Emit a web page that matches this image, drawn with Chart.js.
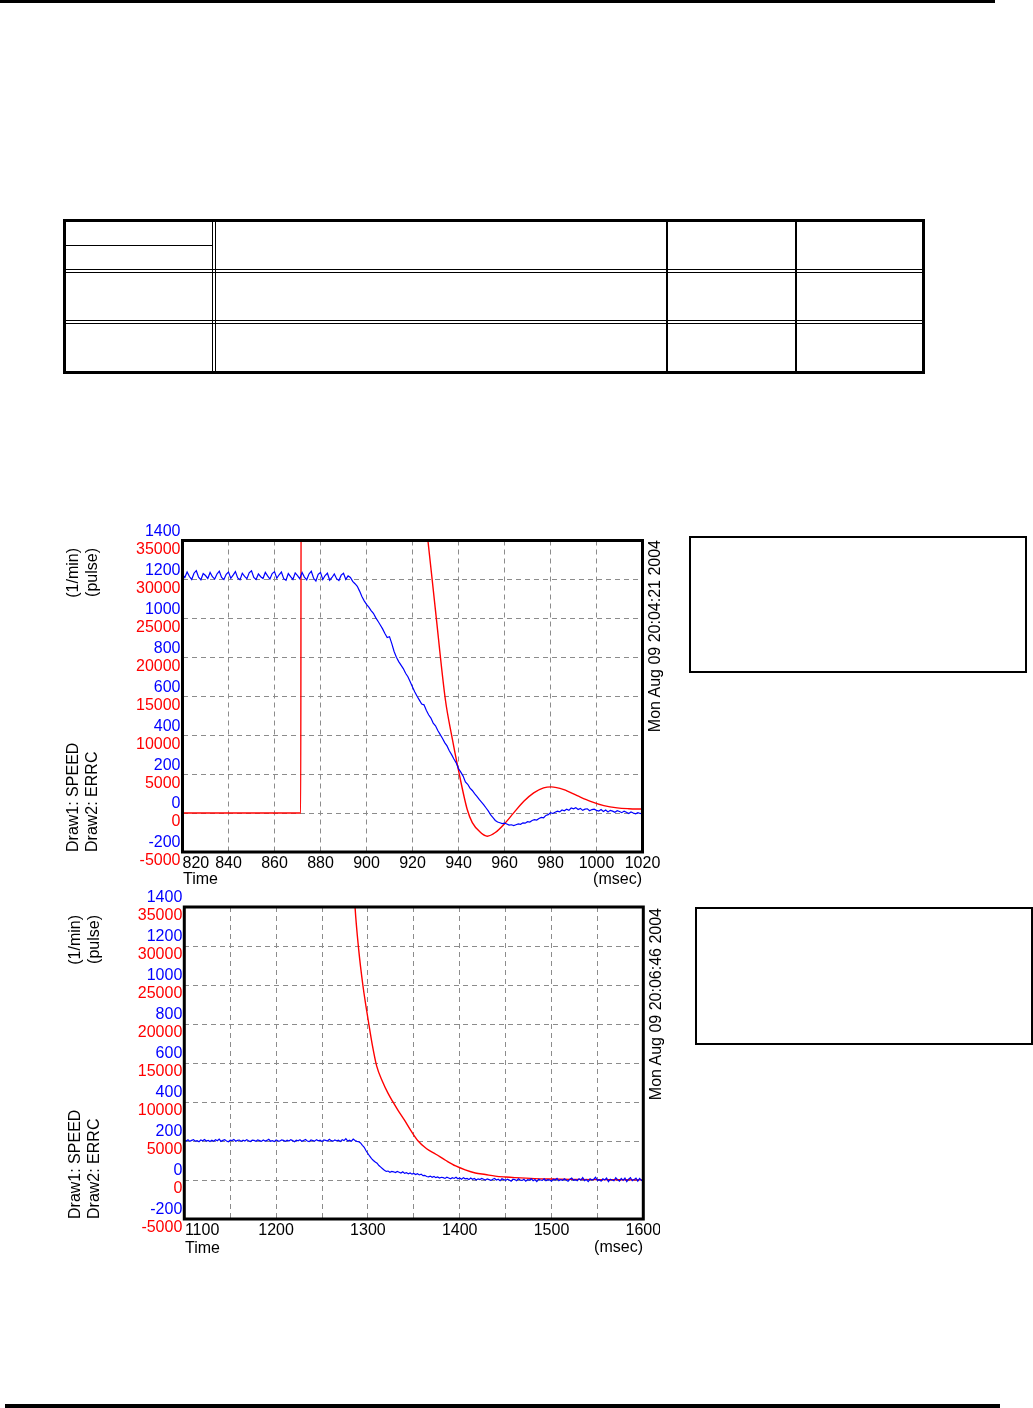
<!DOCTYPE html>
<html lang="en">
<head>
  <meta charset="UTF-8" />
  <title>SPEED / ERRC traces</title>
  <script src="https://cdn.jsdelivr.net/npm/chart.js"></script>
  <style>
    body {
      margin: 0;
      background: #fff;
      font-family: 'Liberation Sans', Arial, sans-serif;
    }
    #page { position: relative; width: 1033px; height: 1408px; overflow: hidden; }
    canvas, .abs { position: absolute; }
    .rule { position: absolute; background: #000; }
    .box { position: absolute; border: 2px solid #000; box-sizing: border-box; }
    .rot {
      position: absolute;
      transform-origin: 0 0;
      transform: rotate(-90deg);
      white-space: nowrap;
      font-size: 16px;
      line-height: 19px;
    }
    .lbl { position: absolute; font-size: 16px; line-height: 18px; white-space: nowrap; }
  </style>
</head>
<body>
<div id="page">
  <!-- page rules -->
  <div class="rule" style="left:0;top:0;width:995px;height:3px"></div>
  <div class="rule" style="left:5px;top:1404px;width:995px;height:4px"></div>

  <!-- empty table -->
  <svg class="abs" style="left:0;top:0" width="1033" height="400" shape-rendering="crispEdges">
    <g stroke="#000" fill="none">
      <rect x="64.5" y="220.5" width="859" height="152" stroke-width="3" />
      <line x1="212.5" y1="219" x2="212.5" y2="374" />
      <line x1="215.5" y1="219" x2="215.5" y2="374" />
      <line x1="667" y1="219" x2="667" y2="374" stroke-width="2" />
      <line x1="796" y1="219" x2="796" y2="374" stroke-width="2" />
      <line x1="63" y1="245.5" x2="213" y2="245.5" />
      <line x1="63" y1="269.5" x2="925" y2="269.5" />
      <line x1="63" y1="272.5" x2="925" y2="272.5" />
      <line x1="63" y1="320.5" x2="925" y2="320.5" />
      <line x1="63" y1="323.5" x2="925" y2="323.5" />
    </g>
  </svg>

  <!-- chart 1 -->
  <canvas id="chart1" width="560" height="360" style="left:100px;top:520px"></canvas>
  <div class="rot" style="left:63px;top:668px;width:120px;text-align:right">(1/min)<br>(pulse)</div>
  <div class="rot" style="left:63px;top:852px;width:120px">Draw1: SPEED<br>Draw2: ERRC</div>
  <div class="rot" style="left:645px;top:770px;width:230px;text-align:right">Mon Aug 09 20:04:21 2004</div>
  <div class="lbl" style="left:183px;top:870px">Time</div>
  <div class="lbl" style="right:391px;top:870px">(msec)</div>
  <div class="box" style="left:689px;top:536px;width:338px;height:137px"></div>

  <!-- chart 2 -->
  <canvas id="chart2" width="560" height="360" style="left:100px;top:887px"></canvas>
  <div class="rot" style="left:65px;top:1035px;width:120px;text-align:right">(1/min)<br>(pulse)</div>
  <div class="rot" style="left:65px;top:1219px;width:120px">Draw1: SPEED<br>Draw2: ERRC</div>
  <div class="rot" style="left:646px;top:1138px;width:230px;text-align:right">Mon Aug 09 20:06:46 2004</div>
  <div class="lbl" style="left:185px;top:1239px">Time</div>
  <div class="lbl" style="right:390px;top:1238px">(msec)</div>
  <div class="box" style="left:695px;top:907px;width:338px;height:138px"></div>
</div>

<script>
  // tick values
  const speedTicks = [-200, 0, 200, 400, 600, 800, 1000, 1200, 1400];
  const errTicks = [-5000, 0, 5000, 10000, 15000, 20000, 25000, 30000, 35000];
  const time1Ticks = [820, 840, 860, 880, 900, 920, 940, 960, 980, 1000, 1020];
  const time2Ticks = [1100, 1150, 1200, 1250, 1300, 1350, 1400, 1450, 1500, 1550, 1600];
  const time2Labels = [1100, 1200, 1300, 1400, 1500, 1600];

  // chart 1: SPEED sampled every 1 ms from 820 ms
  const speed1Start = 820, speed1Step = 1;
  const speed1 = [
    1225, 1210, 1238, 1215, 1200, 1232, 1245, 1212, 1198, 1230,
    1220, 1205, 1236, 1214, 1202, 1228, 1242, 1210, 1200, 1226,
    1238, 1206, 1222, 1240, 1208, 1198, 1232, 1216, 1204, 1234,
    1244, 1210, 1200, 1228, 1214, 1205, 1236, 1218, 1202, 1230,
    1240, 1206, 1224, 1238, 1204, 1196, 1230, 1214, 1200, 1234,
    1220, 1204, 1236, 1212, 1198, 1228, 1242, 1206, 1192, 1226,
    1236, 1200, 1220, 1232, 1196, 1210, 1228, 1204, 1194, 1222,
    1232, 1200, 1218, 1210, 1190, 1178, 1165, 1140, 1112, 1090,
    1072, 1058, 1040, 1026, 1004, 985, 966, 946, 922, 902,
    906, 870, 830, 800, 778, 760, 742, 718, 700, 674,
    648, 622, 600, 580, 560, 556, 528, 505, 488, 462,
    448, 424, 404, 384, 362, 345, 320, 300, 278, 258,
    228, 210, 190, 160, 148, 128, 116, 100, 86, 70,
    56, 42, 26, 10, -10, -24, -38, -46, -50, -54,
    -52, -56, -62, -60, -64, -60, -56, -58, -50, -52,
    -44, -46, -38, -34, -36, -28, -22, -24, -12, -8,
    2, -2, 4, 10, 6, 16, 12, 20, 14, 26,
    22, 28, 18, 24, 14, 20, 22, 12, 18, 20,
    14, 10, 18, 8, 16, 6, 14, 10, 4, 12,
    8, 2, 10, 4, -2, 6, 0, -4, 2, -2,
    -4
  ];
  // chart 1: ERRC
  const err1Time = [820, 871.4, 871.6, 922, 926.7, 930, 934.3, 937, 940, 943.8, 946, 949.6, 952.5, 956,
    959.7, 964, 968.4, 972.7, 977, 980.3, 985.8, 991.6, 997.4, 1003.2, 1009, 1014, 1020];
  const err1 = [0, 0, 47000, 47000, 35000, 26000, 14550, 10000, 5490, 450, -1220, -2500, -2970, -2500,
    -1470, 25, 1510, 2590, 3230, 3360, 3010, 2240, 1510, 960, 660, 560, 520];

  // chart 2: SPEED sampled every 2 ms from 1100 ms
  const speed2Start = 1100, speed2Step = 2;
  const speed2 = [
    204, 200, 206, 198, 203, 207, 199, 202, 196, 205,
    201, 208, 200, 203, 197, 204, 199, 206, 201, 210,
    198, 203, 207, 200, 196, 204, 202, 208, 199, 203,
    205, 198, 204, 200, 207, 201, 197, 204, 203, 199,
    206, 202, 198, 205, 200, 203, 209, 199, 202, 197,
    205, 201, 199, 206, 203, 198, 204, 200, 207, 202,
    196, 204, 201, 206, 199, 203, 208, 200, 197, 205,
    202, 199, 207, 201, 204, 198, 206, 203, 200, 209,
    202, 199, 205, 201, 204, 198, 207, 202, 212, 200,
    204, 199, 210, 203, 198, 196, 190, 178, 168, 150,
    136, 122, 110, 100, 92, 86, 74, 66, 58, 50,
    44, 46, 40, 44, 42, 38, 44, 40, 36, 42,
    34, 38, 32, 36, 30, 34, 28, 32, 26, 30,
    22, 24, 18, 16, 20, 14, 18, 12, 16, 10,
    14, 12, 8, 14, 10, 6, 12, 8, 14, 6,
    10, 4, 12, 6, 8, 2, 10, 4, 8, 0,
    6, 2, 8, 4, 0, 6, 2, -2, 4, 8,
    0, 4, -4, 6, 2, -2, 4, 0, -6, 4,
    2, -4, 6, 0, -2, 4, -6, 2, 0, 6,
    -4, 2, -8, 4, 0, -2, 6, -4, 2, 0,
    -6, 4, 0, 8, -4, 2, -2, 6, 0, -6,
    4, 10, -2, 2, -4, 6, 0, 12, -4, 2,
    -8, 6, 0, 4, 14, -2, 2, -6, 6, 0,
    10, -8, 4, 0, -4, 12, 2, -6, 8, -2,
    10, -8, 4, 12, -4, 2, 10, -6, 8, -2,
    4
  ];
  // chart 2: ERRC
  const err2Time = [1283, 1286, 1290, 1294.5, 1298, 1301, 1305, 1309.6, 1316, 1322, 1326.8, 1333, 1339.7,
    1347, 1354.7, 1364, 1374, 1385, 1395.6, 1406, 1417, 1428, 1438.7, 1450, 1460, 1481.7, 1500, 1525,
    1550, 1575, 1600];
  const err2 = [42000, 35000, 29500, 25000, 22200, 20000, 17200, 14600, 12600, 11100, 10100, 8900, 7700,
    6300, 5000, 4000, 3300, 2500, 1800, 1300, 900, 700, 500, 380, 300, 170, 120, 80,
    50, 30, 10];

  const FONT = "'Liberation Sans', Arial, sans-serif";
  Chart.defaults.font.family = FONT;
  Chart.defaults.font.size = 16;
  Chart.defaults.color = '#000';

  // width of the widest speed label, so the mirrored speed labels can be pulled back left of the frame
  const measure = document.createElement('canvas').getContext('2d');
  measure.font = '16px ' + FONT;
  const speedLabelWidth = Math.max(...speedTicks.map(v => measure.measureText(String(v)).width));

  // thick black frame round the plot area
  const framePlugin = {
    id: 'frame',
    afterDatasetsDraw(chart) {
      const { ctx, chartArea: a } = chart;
      ctx.save();
      ctx.strokeStyle = '#000';
      ctx.lineWidth = 3;
      ctx.strokeRect(a.left, a.top, a.right - a.left, a.bottom - a.top);
      ctx.restore();
    }
  };

  const useTicks = values => scale => { scale.ticks = values.map(v => ({ value: v })); };
  const plain = v => String(v);
  const gridStyle = { color: '#8c8c8c', lineWidth: 1, drawTicks: false };
  const dashBorder = { display: false, dash: [5, 4] };

  function makeChart(id, c) {
    const speedPts = c.speed.map((v, i) => ({ x: c.speedStart + i * c.speedStep, y: v }));
    const errPts = c.err.map((v, i) => ({ x: c.errTime[i], y: v }));
    return new Chart(document.getElementById(id), {
      type: 'line',
      data: {
        datasets: [
          { data: speedPts, yAxisID: 'ySpeed', borderColor: '#0000ff', borderWidth: 1.2, pointRadius: 0 },
          { data: errPts, yAxisID: 'yErr', borderColor: '#ff0000', borderWidth: 1.4, pointRadius: 0,
            cubicInterpolationMode: 'monotone' }
        ]
      },
      options: {
        responsive: false,
        animation: false,
        events: [],
        layout: { padding: c.padding },
        plugins: { legend: { display: false }, tooltip: { enabled: false } },
        scales: {
          x: {
            type: 'linear',
            min: c.xTicks[0],
            max: c.xTicks[c.xTicks.length - 1],
            afterBuildTicks: useTicks(c.xTicks),
            afterFit: s => { s.height = 28; s.paddingLeft = 0; s.paddingRight = 0; },
            grid: gridStyle,
            border: dashBorder,
            ticks: {
              autoSkip: false, maxRotation: 0, minRotation: 0, padding: 2, color: '#000',
              callback: (v, i) => {
                if (!c.xLabels.includes(v)) return '';
                return i === 0 ? ' '.repeat(c.firstPad) + v : String(v);
              }
            }
          },
          // zero-width axis against the plot; mirrored labels pulled back over the red axis
          ySpeed: {
            position: 'left',
            weight: 0,
            min: speedTicks[0],
            max: speedTicks[speedTicks.length - 1],
            afterBuildTicks: useTicks(speedTicks),
            afterFit: s => { s.width = 0; s.paddingTop = 0; s.paddingBottom = 0; },
            grid: { display: false, drawTicks: false },
            border: { display: false },
            ticks: {
              color: '#0000ff', labelOffset: -9, autoSkip: false, callback: plain,
              mirror: true, crossAlign: 'far', padding: -(speedLabelWidth + 2)
            }
          },
          yErr: {
            position: 'left',
            weight: 1,
            min: errTicks[0],
            max: errTicks[errTicks.length - 1],
            afterBuildTicks: useTicks(errTicks),
            afterFit: s => { s.width = c.axisWidth; s.paddingTop = 0; s.paddingBottom = 0; },
            grid: gridStyle,
            border: dashBorder,
            ticks: { color: '#ff0000', labelOffset: 9, padding: 2, autoSkip: false, callback: plain }
          }
        }
      },
      plugins: [framePlugin]
    });
  }

  makeChart('chart1', {
    speed: speed1, speedStart: speed1Start, speedStep: speed1Step,
    err: err1, errTime: err1Time,
    xTicks: time1Ticks, xLabels: time1Ticks, firstPad: 6,
    axisWidth: 82.5,
    padding: { left: 0, right: 17.5, top: 20.5, bottom: 0 }
  });

  makeChart('chart2', {
    speed: speed2, speedStart: speed2Start, speedStep: speed2Step,
    err: err2, errTime: err2Time,
    xTicks: time2Ticks, xLabels: time2Labels, firstPad: 8,
    axisWidth: 84.3,
    padding: { left: 0, right: 16.7, top: 20, bottom: 0 }
  });
</script>
</body>
</html>
